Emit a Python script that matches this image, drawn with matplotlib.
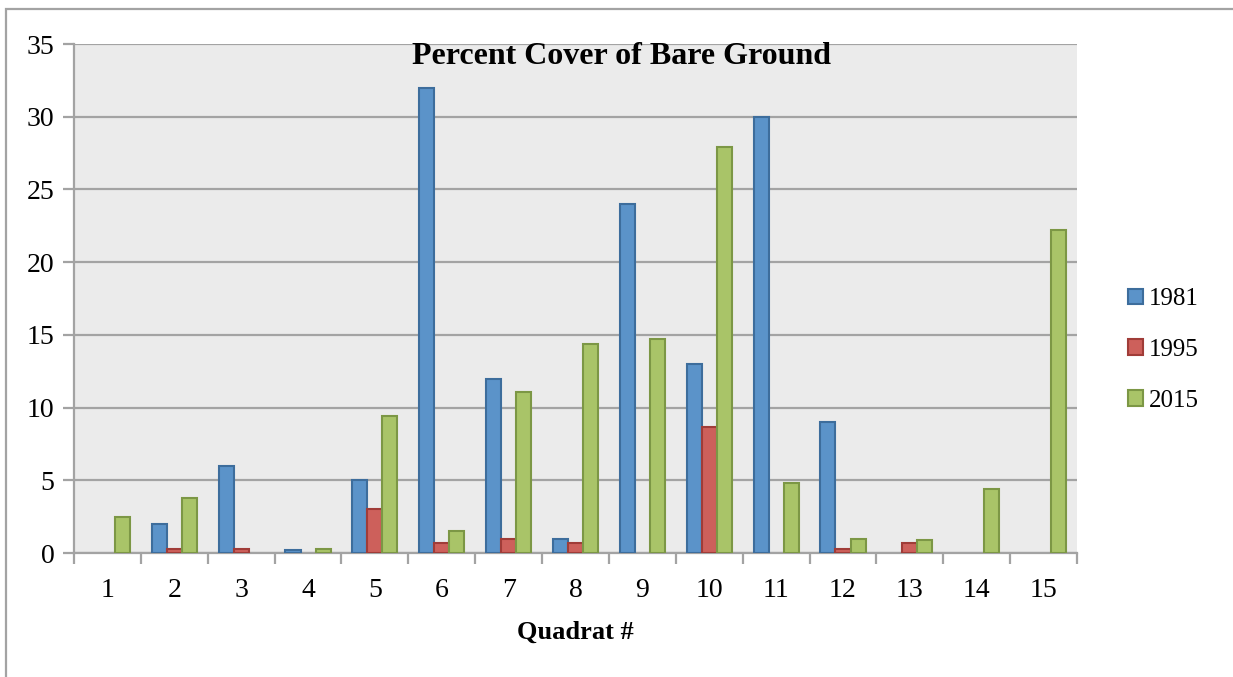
from matplotlib import pyplot as plt
from matplotlib.patches import Rectangle, Patch
import numpy as np

# percent cover of bare ground per quadrat
quadrats = np.arange(1, 16)
cover_1981 = [0, 2, 6, 0.2, 5, 32, 12, 1, 24, 13, 30, 9, 0, 0, 0]
cover_1995 = [0, 0.3, 0.3, 0, 3, 0.7, 1, 0.7, 0, 8.7, 0, 0.3, 0.7, 0, 0]
cover_2015 = [2.5, 3.8, 0, 0.3, 9.4, 1.5, 11.1, 14.4, 14.7, 27.9, 4.8, 1.0, 0.9, 4.4, 22.2]

series = [("1981", cover_1981, "#5b93c9", "#3d6d9c"),
          ("1995", cover_1995, "#cd605b", "#a03c38"),
          ("2015", cover_2015, "#a9c468", "#7c9745")]

plt.rcParams['font.family'] = ['Liberation Serif', 'DejaVu Serif']

fig = plt.figure(figsize=(12.33, 6.77), dpi=100)
ax = fig.add_axes([0.060, 0.183, 0.8135, 0.752])
ax.set_facecolor("#ebebeb")

w = 0.225
handles = []
for i, (name, vals, fc, ec) in enumerate(series):
    bars = ax.bar(quadrats + (i - 1) * w, vals, width=w, color=fc, edgecolor=ec,
                  linewidth=1.5, zorder=3)
    # empty quadrats get no bar at all
    for b, v in zip(bars, vals):
        if v == 0:
            b.set_visible(False)
    handles.append(Patch(facecolor=fc, edgecolor=ec, linewidth=1.5, label=name))

ax.set_xlim(0.5, 15.5)
ax.set_ylim(0, 35)
ax.set_yticks(np.arange(0, 36, 5))
ax.set_xticks(quadrats)
ax.set_xticks(np.arange(0.5, 15.6, 1), minor=True)
ax.yaxis.grid(True, color="#a3a3a3", linewidth=1.6, zorder=0)
ax.set_axisbelow(True)

for s in ["top", "right"]:
    ax.spines[s].set_visible(False)
for s in ["left", "bottom"]:
    ax.spines[s].set_color("#a3a3a3")
    ax.spines[s].set_linewidth(1.6)

ax.tick_params(axis="y", length=8, width=1.6, color="#a3a3a3", labelsize=20, pad=6)
ax.tick_params(axis="x", which="major", length=0, labelsize=20, pad=18)
ax.tick_params(axis="x", which="minor", length=8, width=1.6, color="#a3a3a3")

ax.set_xlabel("Quadrat #", fontsize=19, fontweight="bold", labelpad=13)
fig.text(0.504, 0.917, "Percent Cover of Bare Ground", fontsize=23,
         fontweight="bold", ha="center", va="center")

leg = ax.legend(handles=handles, loc="center left", bbox_to_anchor=(0.8965, 0.483),
                bbox_transform=fig.transFigure, frameon=False, fontsize=18,
                handlelength=0.6, handleheight=0.6, handletextpad=0.25,
                labelspacing=1.15)

# chart frame
fig.patches.append(Rectangle((6 / 1233, -0.01), 1.0, 1 - 9 / 677 + 0.01,
                             transform=fig.transFigure, fill=False,
                             edgecolor="#a3a3a3", linewidth=1.6))

plt.savefig("out.png", dpi=100)
